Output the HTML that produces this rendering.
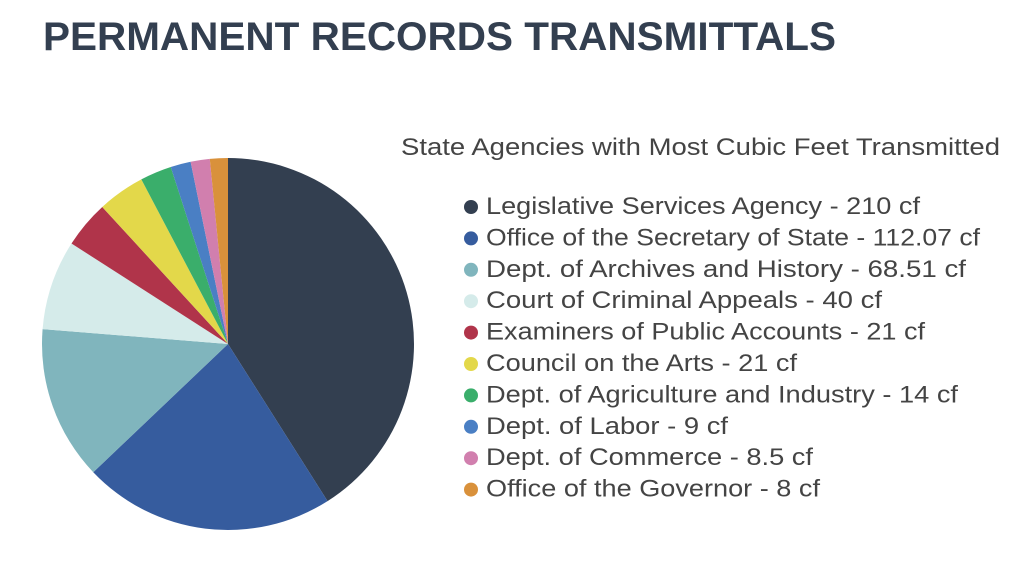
<!DOCTYPE html>
<html><head><meta charset="utf-8"><style>
html,body{margin:0;padding:0;background:#fff;}
body{width:1024px;height:577px;overflow:hidden;}
</style></head><body>
<svg id="s" width="1024" height="577" xmlns="http://www.w3.org/2000/svg" font-family="Liberation Sans, sans-serif">
<text x="43" y="50" font-size="40" font-weight="bold" fill="#333f50" textLength="793" lengthAdjust="spacingAndGlyphs">PERMANENT RECORDS TRANSMITTALS</text>
<text x="401" y="155" font-size="24" fill="#444" textLength="599" lengthAdjust="spacingAndGlyphs">State Agencies with Most Cubic Feet Transmitted</text>
<g id="pie"></g>
<g id="leg"></g>
</svg>
<script>
var d=[["Legislative Services Agency - 210 cf",210,"#333f50",434],
["Office of the Secretary of State - 112.07 cf",112.07,"#365c9e",494],
["Dept. of Archives and History - 68.51 cf",68.51,"#80b5bd",480],
["Court of Criminal Appeals - 40 cf",40,"#d5ebea",396],
["Examiners of Public Accounts - 21 cf",21,"#b0344a",439],
["Council on the Arts - 21 cf",21,"#e3d84a",311],
["Dept. of Agriculture and Industry - 14 cf",14,"#3aae6b",472],
["Dept. of Labor - 9 cf",9,"#4a7fc4",242],
["Dept. of Commerce - 8.5 cf",8.5,"#d17fae",327],
["Office of the Governor - 8 cf",8,"#d9913b",334]];
var tot=d.reduce((a,b)=>a+b[1],0),cx=228,cy=344,r=186,a=0,ns="http://www.w3.org/2000/svg";
var pie=document.getElementById("pie"),leg=document.getElementById("leg");
d.forEach(function(e,i){
 var a2=a+e[1]/tot*2*Math.PI;
 var x1=cx+r*Math.sin(a),y1=cy-r*Math.cos(a),x2=cx+r*Math.sin(a2),y2=cy-r*Math.cos(a2);
 var p=document.createElementNS(ns,"path");
 p.setAttribute("d","M"+cx+","+cy+"L"+x1+","+y1+"A"+r+","+r+" 0 "+((a2-a)>Math.PI?1:0)+" 1 "+x2+","+y2+"Z");
 p.setAttribute("fill",e[2]);pie.appendChild(p);a=a2;
 var y=205+i*31.4;
 var c=document.createElementNS(ns,"circle");c.setAttribute("cx",471);c.setAttribute("cy",y+2);c.setAttribute("r",7);c.setAttribute("fill",e[2]);leg.appendChild(c);
 var t=document.createElementNS(ns,"text");t.setAttribute("x",486);t.setAttribute("y",y+9);t.setAttribute("font-size","24");t.setAttribute("fill","#444");
 t.setAttribute("textLength",e[3]);t.setAttribute("lengthAdjust","spacingAndGlyphs");t.textContent=e[0];leg.appendChild(t);
});
</script>
</body></html>
